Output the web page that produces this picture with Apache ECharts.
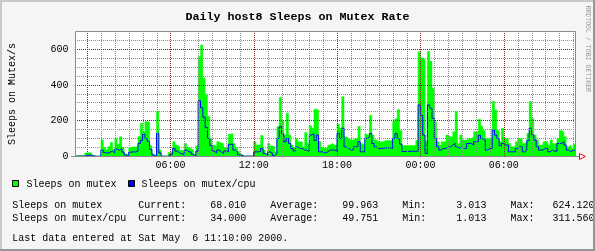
<!DOCTYPE html>
<html><head><meta charset="utf-8">
<script src="https://cdn.jsdelivr.net/npm/echarts@6/dist/echarts.min.js"></script>
<style>html,body{margin:0;padding:0;background:#F5F5F5}#c{width:595px;height:251px}</style>
</head><body><div id="c"></div>
<script>
const chartTitle = 'Daily host8 Sleeps on Mutex Rate';
const yAxisTitle = 'Sleeps on Mutex/s';
const creditText = 'RRDTOOL / TOBI OETIKER';
const startMinute = -50;   // minutes relative to Fri 00:00 (Thu 23:10)
const endMinute = 2110;    // Sat 11:10
const stepMinutes = 10;
const seriesNames = ['Sleeps on mutex', 'Sleeps on mutex/cpu'];
const mutex = [3,5,5,4,5,20,22,20,6,3.5,3.2,3.3,92,50,38,55,79,40,101,70,111,50,15,8,50,55,52,60,111,186,139,195,193,62,15,3.5,252,37,3.3,3.013,3.1,22,28,83,65,55,35,30,73,50,45,36,10,60,560,624.12,440,345,225,101,64,54,83,75,73,50,45,124,130,73,50,30,12,3.2,3.2,3.3,3.2,3.3,83,64,64,118,36,17,73,60,54,26,167,330,200,120,242,120,64,50,101,83,83,54,135,73,173,158,265,261,83,50,45,50,64,73,64,64,180,160,335,110,101,92,92,101,101,168,73,64,124,120,231,120,92,83,83,83,90,90,90,90,196,212,263,146,62,62,62,62,62,62,90,586,552,543,83,590,533,383,195,83,64,83,83,120,110,110,139,252,73,120,92,92,101,101,110,139,139,208,170,146,101,101,101,308,261,146,83,158,101,101,73,54,54,83,101,101,73,83,130,308,214,120,92,64,64,83,83,64,92,73,73,101,146,139,110,54,64,45,68.01];
const mutexPerCpu = [1.1,2,2,2,2,6,8,7,3,1.2,1.1,2,36,22,18,25,30,20,42,35,45,25,8,4,24,26,25,30,73,90,125,100,85,40,8,2,130,20,2,1.013,1.1,10,14,45,30,20,15,12,36,26,25,12,3,30,311.56,273,220,163,101,62,30,20,36,25,17,30,26,68,70,36,26,10,5,2,2,2,2,2,26,26,30,45,17,7,26,20,5,15,101,167,128,83,101,73,45,30,54,45,45,36,36,26,120,128,90,120,26,26,20,26,36,36,36,30,130,100,158,54,45,36,36,54,54,83,26,26,101,110,128,73,54,45,45,45,49,49,49,45,101,128,100,70,28,28,28,30,30,28,30,289,230,120,17,289,270,214,101,54,36,45,45,54,54,64,73,54,45,54,45,45,73,73,64,83,83,118,100,92,36,45,45,148,120,101,60,73,64,64,26,26,26,45,54,54,26,36,90,158,120,92,54,36,36,45,45,26,36,30,30,73,73,83,64,36,26,36,34];
const statCurrent = [68.010, 34.000];
const statAverage = [99.963, 49.751];
const statMin = [3.013, 1.013];
const statMax = [624.120, 311.560];
const xLabelMinutes = [360, 720, 1080, 1440, 1800];
const yLabelValues = [0, 200, 400, 600];
const yMax = 700;
const yMinorStep = 50;
const yMajorStep = 200;
const lastUpdate = 'Last data entered at Sat May  6 11:10:00 2000.';

const MONO = '"Liberation Mono", "DejaVu Sans Mono", monospace';
const toPairs = arr => arr.map((v, i) => [startMinute + i * stepMinutes, v]);
const FRAME = '#8C8C8C';
const MINOR = '#8C8C8C', MAJOR = '#821E1E';
const GL = 75.5, GT = 31.5, GW = 500, GH = 125;

// vertical grid lines: [minute, 0, isMajor]
const vGrid = [];
for (let m = 0; m < endMinute; m += 60) vGrid.push([m, 0, m % 360 === 0 ? 1 : 0]);

function vGridRender(params, api) {
  const cs = params.coordSys;
  const color = api.value(2) === 1 ? MAJOR : MINOR;
  const x = Math.round(api.coord([api.value(0), 0])[0]);
  const children = [];
  for (let y = Math.ceil(cs.y) + 1; y < cs.y + cs.height - 1; y += 2) {
    children.push({ type: 'rect', shape: { x: x, y: y, width: 1, height: 1 }, style: { fill: color } });
  }
  return { type: 'group', silent: true, children };
}

// horizontal dotted grid (decoration) — rows follow the 0..yMax linear value scale of the plot
const hGridElems = [];
for (let v = yMinorStep; v < yMax; v += yMinorStep) {
  const y = Math.floor(GT + GH * (1 - v / yMax));
  const color = v % yMajorStep === 0 ? MAJOR : MINOR;
  for (let x = Math.ceil(GL) + 1; x < GL + GW - 1; x += 2) {
    hGridElems.push({ type: 'rect', shape: { x: x, y: y, width: 1, height: 1 }, style: { fill: color }, z: 5, silent: true });
  }
}

function statLine(k) {
  return seriesNames[k].padEnd(21) + 'Current:' + statCurrent[k].toFixed(3).padStart(10) + '    ' +
    'Average:' + statAverage[k].toFixed(3).padStart(10) + '    ' +
    'Min:' + statMin[k].toFixed(3).padStart(10) + '    ' +
    'Max:' + statMax[k].toFixed(3).padStart(10);
}

const chart = echarts.init(document.getElementById('c'), null, { renderer: 'canvas' });

chart.setOption({
  animation: false,
  backgroundColor: '#F5F5F5',
  grid: { left: GL, top: GT, width: GW, height: GH, show: false },
  xAxis: {
    type: 'value', min: startMinute, max: endMinute,
    axisLine: { show: false }, axisTick: { show: false }, splitLine: { show: false },
    axisLabel: {
      customValues: xLabelMinutes, margin: 4, fontFamily: MONO, fontSize: 10, color: '#000',
      formatter: v => String(Math.floor(((v % 1440) + 1440) % 1440 / 60)).padStart(2, '0') + ':00'
    }
  },
  yAxis: {
    type: 'value', min: 0, max: yMax,
    axisLine: { show: false }, axisTick: { show: false }, splitLine: { show: false },
    axisLabel: { customValues: yLabelValues, margin: 7, fontFamily: MONO, fontSize: 10, color: '#000' }
  },
  series: [
    { name: seriesNames[0], type: 'line', step: 'start', symbol: 'none', data: toPairs(mutex), z: 2,
      lineStyle: { width: 0.5, color: '#00FF00' }, areaStyle: { color: '#00FF00', opacity: 1 } },
    { name: seriesNames[1], type: 'line', step: 'start', symbol: 'none', data: toPairs(mutexPerCpu), z: 3,
      lineStyle: { width: 1, color: '#0000FF' } },
    { type: 'custom', data: vGrid, renderItem: vGridRender, z: 4, silent: true, clip: false,
      encode: { x: 0, y: 1 } }
  ],
  graphic: [
    { type: 'rect', shape: { x: GL, y: GT, width: GW, height: GH }, style: { fill: '#FFFFFF' }, z: -100, silent: true },
    { type: 'group', silent: true, z: 5, children: hGridElems },
    { type: 'rect', shape: { x: GL, y: GT, width: GW, height: GH }, style: { fill: null, stroke: FRAME, lineWidth: 1 }, z: 10, silent: true },
    { type: 'line', shape: { x1: 71, y1: 156.5, x2: 580, y2: 156.5 }, style: { stroke: FRAME, lineWidth: 1 }, z: 10, silent: true },
    { type: 'polygon', shape: { points: [[579.5, 153.5], [585.5, 156.5], [579.5, 159.5]] }, style: { stroke: '#FF0000', fill: null, lineWidth: 1 }, z: 10, silent: true },
    { type: 'text', x: 297.5, y: 17, silent: true, style: { text: chartTitle, font: 'bold 11.67px ' + MONO, fill: '#000', textAlign: 'center', textVerticalAlign: 'middle' } },
    { type: 'text', x: 12.5, y: 94, rotation: Math.PI / 2, silent: true, style: { text: yAxisTitle, font: '10px ' + MONO, fill: '#000', textAlign: 'center', textVerticalAlign: 'middle' } },
    { type: 'text', x: 588, y: 48.7, rotation: -Math.PI / 2, scaleX: 0.82, silent: true, style: { text: creditText, font: '8px ' + MONO, fill: '#999999', textAlign: 'center', textVerticalAlign: 'middle' } },
    { type: 'rect', shape: { x: 12.5, y: 180.5, width: 6, height: 6 }, style: { fill: '#00FF00', stroke: '#000', lineWidth: 1 }, silent: true },
    { type: 'text', x: 26.5, y: 184, silent: true, style: { text: seriesNames[0], font: '10px ' + MONO, fill: '#000', textVerticalAlign: 'middle' } },
    { type: 'rect', shape: { x: 128.5, y: 180.5, width: 6, height: 6 }, style: { fill: '#0000FF', stroke: '#000', lineWidth: 1 }, silent: true },
    { type: 'text', x: 141.5, y: 184, silent: true, style: { text: seriesNames[1], font: '10px ' + MONO, fill: '#000', textVerticalAlign: 'middle' } },
    { type: 'text', x: 12.3, y: 205.5, silent: true, style: { text: statLine(0), font: '10px ' + MONO, fill: '#000', textVerticalAlign: 'middle' } },
    { type: 'text', x: 12.3, y: 218, silent: true, style: { text: statLine(1), font: '10px ' + MONO, fill: '#000', textVerticalAlign: 'middle' } },
    { type: 'text', x: 12.3, y: 238, silent: true, style: { text: lastUpdate, font: '10px ' + MONO, fill: '#000', textVerticalAlign: 'middle' } },
    { type: 'rect', shape: { x: 0, y: 0, width: 595, height: 2 }, style: { fill: '#C8C8C8' }, z: 20, silent: true },
    { type: 'rect', shape: { x: 0, y: 0, width: 2, height: 251 }, style: { fill: '#C8C8C8' }, z: 20, silent: true },
    { type: 'rect', shape: { x: 0, y: 249, width: 595, height: 2 }, style: { fill: '#969696' }, z: 21, silent: true },
    { type: 'rect', shape: { x: 593, y: 0, width: 2, height: 251 }, style: { fill: '#969696' }, z: 21, silent: true }
  ]
});
</script></body></html>
